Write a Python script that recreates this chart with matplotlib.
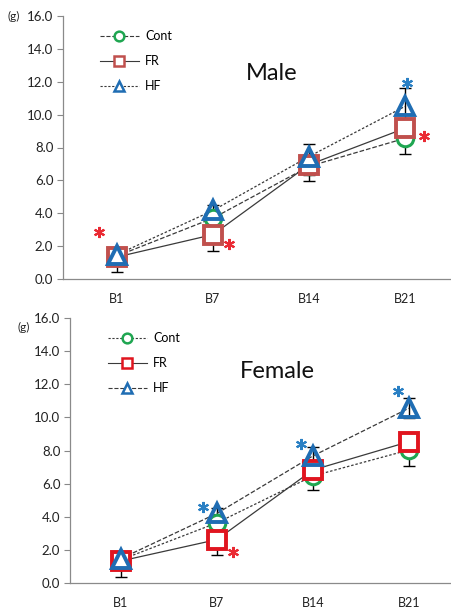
import matplotlib
matplotlib.use("Agg")
import matplotlib.pyplot as plt
from matplotlib.lines import Line2D
import numpy as np

plt.rcParams['font.family'] = ['Lato', 'DejaVu Sans']

categories = ["B1", "B7", "B14", "B21"]
series = ["Cont", "FR", "HF"]
yticks = [0.0, 2.0, 4.0, 6.0, 8.0, 10.0, 12.0, 14.0, 16.0]

# Male
male_cont = [1.40, 3.70, 6.85, 8.56]
male_fr = [1.34, 2.70, 6.95, 9.17]
male_hf = [1.48, 4.17, 7.45, 10.50]
male_cont_err = [0.50, 0.50, 0.88, 0.96]   # minus
male_fr_err = [0.94, 1.00, 0.60, 0.50]     # minus
male_hf_err = [0.25, 0.35, 0.75, 1.10]     # plus/minus

# Female
female_cont = [1.40, 3.63, 6.46, 8.03]
female_fr = [1.33, 2.62, 6.82, 8.53]
female_hf = [1.47, 4.20, 7.67, 10.55]
female_cont_err = [0.50, 0.50, 0.86, 0.95]
female_fr_err = [0.97, 0.95, 0.60, 0.55]
female_hf_err = [0.20, 0.30, 0.52, 0.60]

# significance marks: (x position, y value, colour)
male_star_x = [-0.19, 1.17, 3.02, 3.20]
male_star_y = [2.85, 2.10, 11.90, 8.70]
male_star_c = ["red", "red", "blue", "red"]
female_star_x = [0.86, 1.17, 1.875, 2.89]
female_star_y = [4.60, 1.88, 8.40, 11.60]
female_star_c = ["blue", "red", "blue", "blue"]

GREEN = "#1fa651"
BLUE = "#1f6db3"
RED_M = "#c0504d"
RED_F = "#e0151f"
LINE = "#3a3a3a"
STAR = {"red": "#ea2a33", "blue": "#2a80c4"}

fig = plt.figure(figsize=(4.52, 6.11), dpi=100)


def panel(rect, xlim, cont, fr, hf, cerr, ferr, herr, styles, frcol, title, title_xy,
          sx, sy, sc, g_xy, leg_xy):
    ax = fig.add_axes(rect)
    x = np.arange(len(categories))
    ms = 12.5
    mew = 2.2
    ax.errorbar(x, cont, yerr=[cerr, [0]*4], fmt='none', ecolor='black', elinewidth=1.0, capsize=4, capthick=1.0, zorder=1)
    ax.errorbar(x, fr, yerr=[ferr, [0]*4], fmt='none', ecolor='black', elinewidth=1.0, capsize=4, capthick=1.0, zorder=1)
    ax.errorbar(x, hf, yerr=[herr, herr], fmt='none', ecolor='black', elinewidth=1.0, capsize=4, capthick=1.0, zorder=1)
    ax.plot(x, cont, linestyle=styles[0], color=LINE, lw=0.9, zorder=2)
    ax.plot(x, fr, linestyle=styles[1], color=LINE, lw=0.9, zorder=2)
    ax.plot(x, hf, linestyle=styles[2], color=LINE, lw=0.9, zorder=2)
    ax.plot(x, cont, linestyle='none', marker='o', ms=ms*0.95, mfc='white', mec=GREEN, mew=mew, zorder=3)
    ax.plot(x, fr, linestyle='none', marker='s', ms=ms*1.05, mfc='white', mec=frcol, mew=mew+0.6, zorder=4)
    ax.plot(x, hf, linestyle='none', marker='^', ms=ms*1.05, mfc='none', mec=BLUE, mew=mew+0.6, zorder=5)
    for xx, yy, cc in zip(sx, sy, sc):
        ax.plot([xx], [yy], linestyle='none', marker=(6, 2, 0), ms=8, mec=STAR[cc], mew=1.5, zorder=6)

    ax.set_xlim(*xlim)
    ax.set_ylim(0, 16)
    ax.set_xticks(x)
    ax.set_xticklabels(categories, fontsize=9, color="#222222")
    ax.set_yticks(yticks)
    ax.set_yticklabels([f"{v:.1f}" for v in yticks], fontsize=9.5, color="#222222")
    ax.tick_params(axis='x', length=0, pad=10)
    ax.tick_params(axis='y', length=4, width=0.8, color="#888888", pad=3, direction='out')
    for s in ['top', 'right']:
        ax.spines[s].set_visible(False)
    for s in ['left', 'bottom']:
        ax.spines[s].set_color("#8a8a8a")
        ax.spines[s].set_linewidth(0.9)
    ax.patch.set_alpha(0)
    fig.text(title_xy[0], title_xy[1], title, fontsize=17, ha='center', va='center', color="#111111")
    fig.text(g_xy[0], g_xy[1], "(g)", fontsize=8.5, ha='left', va='center', color="#222222")

    handles = [
        Line2D([], [], linestyle=styles[0], color=LINE, lw=0.8, marker='o', ms=7, mfc='white', mec=GREEN, mew=1.8),
        Line2D([], [], linestyle=styles[1], color=LINE, lw=0.8, marker='s', ms=7, mfc='white', mec=frcol, mew=1.8),
        Line2D([], [], linestyle=styles[2], color=LINE, lw=0.8, marker='^', ms=7, mfc='white', mec=BLUE, mew=1.8),
    ]
    fig.legend(handles, series, loc='upper left', bbox_to_anchor=leg_xy, frameon=False,
               fontsize=9, handlelength=3.1, handletextpad=0.5, labelspacing=1.05,
               borderpad=0, borderaxespad=0)
    return ax


panel([63/452, 1 - 279/611, 1 - 63/452, (279 - 16)/611], (-0.5625, 3.49),
      male_cont, male_fr, male_hf, male_cont_err, male_fr_err, male_hf_err,
      ['--', '-', (0, (2, 1.5))], RED_M, "Male", (272/452, 1 - 73/611),
      male_star_x, male_star_y, male_star_c, (8/452, 1 - 16/611), (100/452, 1 - 30/611))

panel([70/452, 1 - 583/611, 1 - 70/452, (583 - 318)/611], (-0.53, 3.45),
      female_cont, female_fr, female_hf, female_cont_err, female_fr_err, female_hf_err,
      [(0, (2, 1.5)), '-', '--'], RED_F, "Female", (277/452, 1 - 372/611),
      female_star_x, female_star_y, female_star_c, (17/452, 1 - 327/611), (108/452, 1 - 332/611))

fig.savefig("out.png", dpi=100, facecolor='white')
